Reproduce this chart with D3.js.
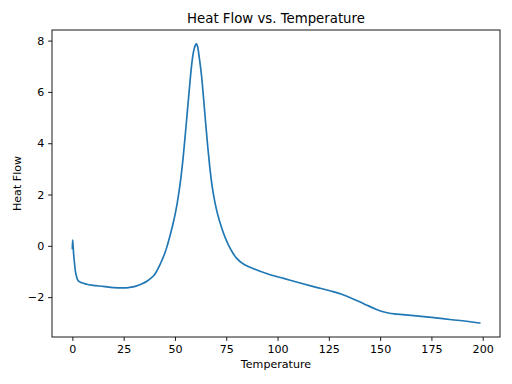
<!DOCTYPE html>
<html>
<head>
<meta charset="utf-8">
<script src="https://cdn.jsdelivr.net/npm/d3@7"></script>
<style>
body { margin: 0; background: #fff; }
text { font-family: "DejaVu Sans", sans-serif; fill: #000; }
</style>
</head>
<body>
<svg width="512" height="384"></svg>
<script>
// temperature / heat flow
var temps = [0, 0.1, 0.3, 0.6, 1.0, 1.5, 2.2, 3, 4, 5.5, 7, 10, 15, 20, 25, 28, 31, 34, 36.5, 38,
  40, 41, 42, 43, 44, 45, 46, 47, 48, 49, 50, 51, 52, 53, 54, 55, 56, 57, 58, 59, 60, 60.5,
  61, 62, 63, 64, 65, 66, 67, 68, 69, 70, 71, 72, 73, 74, 75, 76, 78, 80, 84, 88, 95, 103,
  111, 118, 126, 131, 136, 140, 144, 148, 151, 154, 158, 165, 175, 185, 192, 198.5]
var heatFlow = [-0.1, 0.22, 0.05, -0.3, -0.65, -1.0, -1.25, -1.37, -1.42, -1.46, -1.5, -1.54, -1.58, -1.63, -1.64, -1.62, -1.57, -1.48, -1.37, -1.28,
  -1.13, -1.0, -0.85, -0.68, -0.5, -0.3, -0.06, 0.22, 0.52, 0.84, 1.2, 1.62, 2.12, 2.72, 3.45, 4.3, 5.2, 6.1, 6.95, 7.55, 7.83, 7.87,
  7.78, 7.25, 6.6, 5.7, 4.75, 3.85, 3.05, 2.4, 1.9, 1.5, 1.17, 0.9, 0.65, 0.42, 0.22, 0.05, -0.25, -0.48, -0.74, -0.88, -1.09, -1.27,
  -1.45, -1.6, -1.76, -1.88, -2.04, -2.18, -2.33, -2.47, -2.56, -2.62, -2.66, -2.71, -2.79, -2.88, -2.94, -3.01]
var xTicks = [0, 25, 50, 75, 100, 125, 150, 175, 200]
var yTicks = [-2, 0, 2, 4, 6, 8]

var screen = {width: 512, height: 384}
var margins = {top: 30, bottom: 47, left: 52, right: 12}
var width = screen.width - margins.left - margins.right
var height = screen.height - margins.top - margins.bottom

var data = temps.map(function(t, i) { return {t: t, v: heatFlow[i]} })

// matplotlib style 5% padding
var xmin = d3.min(temps), xmax = d3.max(temps)
var ymin = d3.min(heatFlow), ymax = d3.max(heatFlow)
var xpad = (xmax - xmin) * 0.05, ypad = (ymax - ymin) * 0.05

var xScale = d3.scaleLinear()
    .domain([xmin - xpad, xmax + xpad])
    .range([0, width])
var yScale = d3.scaleLinear()
    .domain([ymin - ypad, ymax + ypad])
    .range([height, 0])

var svg = d3.select("svg")
var g = svg.append("g")
    .attr("transform", "translate(" + margins.left + "," + margins.top + ")")

var line = d3.line()
    .x(function(d) { return xScale(d.t) })
    .y(function(d) { return yScale(d.v) })
    .curve(d3.curveMonotoneX)

g.append("path")
    .datum(data)
    .attr("d", line)
    .attr("fill", "none")
    .attr("stroke", "#1f77b4")
    .attr("stroke-width", 1.67)
    .attr("stroke-linejoin", "round")
    .attr("stroke-linecap", "square")

var xAxis = d3.axisBottom(xScale).tickValues(xTicks).tickSize(3.9).tickPadding(3.9)
var yAxis = d3.axisLeft(yScale).tickValues(yTicks).tickSize(3.9).tickPadding(3.9)
    .tickFormat(function(d) { return d < 0 ? "\u2212" + Math.abs(d) : d })

g.append("g")
    .attr("transform", "translate(0," + height + ")")
    .call(xAxis)
g.append("g")
    .call(yAxis)

g.selectAll(".domain").remove()
g.selectAll(".tick line").attr("stroke", "#000").attr("stroke-width", 0.9)
g.selectAll(".tick text").attr("font-size", "11.1px").attr("font-family", "DejaVu Sans").attr("fill", "#000")

g.append("rect")
    .attr("width", width)
    .attr("height", height)
    .attr("fill", "none")
    .attr("stroke", "#000")
    .attr("stroke-width", 0.9)

g.append("text")
    .attr("x", width / 2)
    .attr("y", -6.7)
    .attr("text-anchor", "middle")
    .attr("font-size", "13.3px")
    .text("Heat Flow vs. Temperature")

g.append("text")
    .attr("x", width / 2)
    .attr("y", height + 31)
    .attr("text-anchor", "middle")
    .attr("font-size", "11.1px")
    .text("Temperature")

g.append("text")
    .attr("transform", "translate(-31," + (height / 2) + ") rotate(-90)")
    .attr("text-anchor", "middle")
    .attr("font-size", "11.1px")
    .text("Heat Flow")
</script>
</body>
</html>
